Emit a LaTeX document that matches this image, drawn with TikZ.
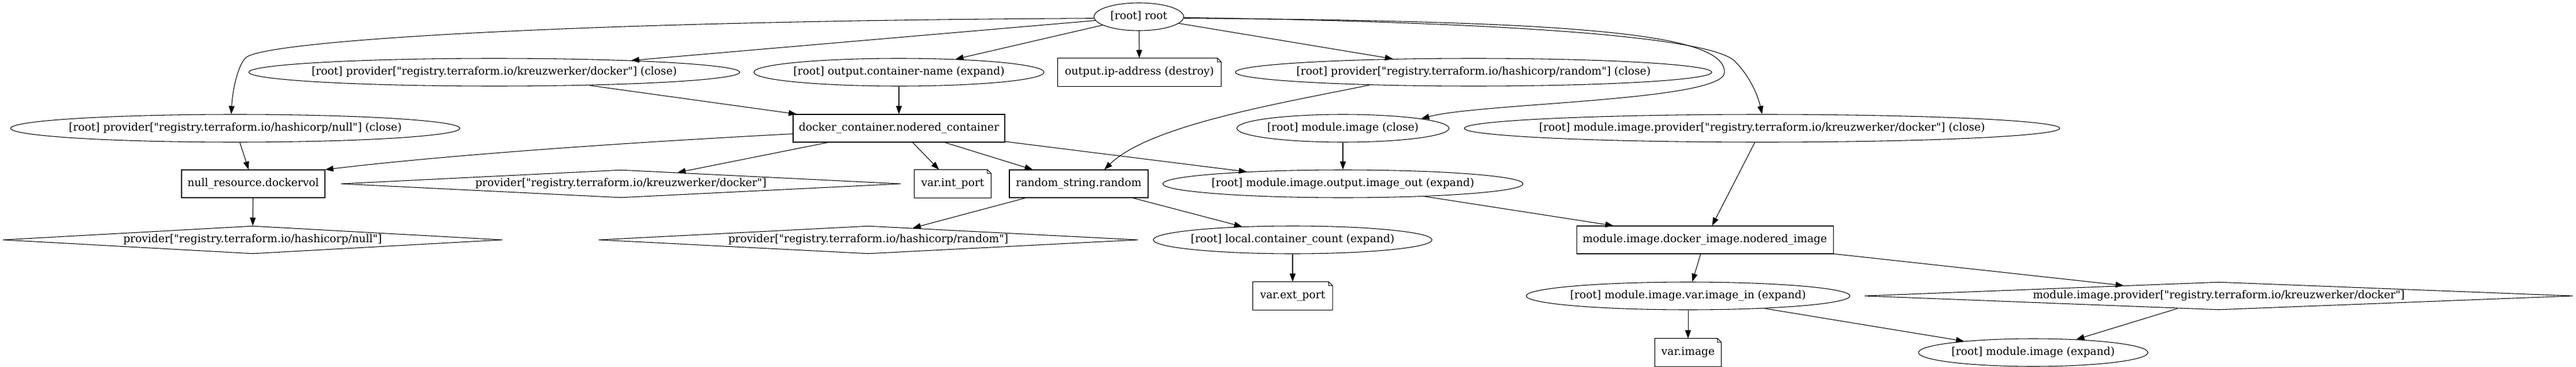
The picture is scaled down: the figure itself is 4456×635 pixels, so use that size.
\documentclass[tikz,border=0pt]{standalone}
\usepackage{fontspec}
\newfontfamily\dvserif{DejaVu Serif}
\usetikzlibrary{shapes.geometric,arrows.meta}
\newcommand\notefold[1]{%
  \draw (#1.south west) -- (#1.north west) -- ([xshift=-5pt]#1.north east) -- ([yshift=-5pt]#1.north east) -- (#1.south east) -- cycle
        ([xshift=-5pt]#1.north east) |- ([yshift=-5pt]#1.north east);}
\begin{document}
\begin{tikzpicture}[x=0.75pt, y=-0.75pt, line width=0.8pt,
   every node/.style={font=\dvserif\fontsize{14pt}{17pt}\selectfont, text height=10pt, text depth=3pt, minimum height=36pt},
   oval/.style={ellipse, draw, inner xsep=-20pt, inner ysep=0pt},
   rbox/.style={rectangle, draw, inner sep=2pt},
   notebox/.style={rectangle, inner sep=2pt},
   prov/.style={diamond, draw, inner sep=0pt},
   wd/.style={minimum width=#1*0.75pt},
   dep/.style={-{Triangle[length=10.5pt,width=7.5pt]}}]
 \useasboundingbox (0,0) rectangle (4456,635);
   \node (root) [oval, wd=155] at (1970,29) {[root] root};
   \node (pdc) [oval, wd=849] at (855,125) {[root] provider["registry.terraform.io/kreuzwerker/docker"] (close)};
   \node (ocn) [oval, wd=502] at (1555,125) {[root] output.container-name (expand)};
   \node (oip) [notebox, wd=282] at (1971,125) {output.ip-address (destroy)};
   \node (prc) [oval, wd=824] at (2549,125) {[root] provider["registry.terraform.io/hashicorp/random"] (close)};
   \node (pnc) [oval, wd=777] at (407,222) {[root] provider["registry.terraform.io/hashicorp/null"] (close)};
   \node (dc) [rbox, wd=366] at (1555,222) {docker\_container.nodered\_container};
   \node (mic) [oval, wd=367] at (2323,222) {[root] module.image (close)};
   \node (mipc) [oval, wd=1030] at (3048,222) {[root] module.image.provider["registry.terraform.io/kreuzwerker/docker"] (close)};
   \node (nr) [rbox, wd=248] at (438,318) {null\_resource.dockervol};
   \node (pd) [prov, wd=968, aspect=20.2] at (1074,318) {provider["registry.terraform.io/kreuzwerker/docker"]};
   \node (vip) [notebox, wd=132] at (1648,318) {var.int\_port};
   \node (rs) [rbox, wd=240] at (1866,318) {random\_string.random};
   \node (io) [oval, wd=623] at (2323,318) {[root] module.image.output.image\_out (expand)};
   \node (pn) [prov, wd=864, aspect=18] at (437,415) {provider["registry.terraform.io/hashicorp/null"]};
   \node (pr) [prov, wd=933, aspect=19.4] at (1502,415) {provider["registry.terraform.io/hashicorp/random"]};
   \node (lcc) [oval, wd=482] at (2236,415) {[root] local.container\_count (expand)};
   \node (di) [rbox, wd=444] at (2949,415) {module.image.docker\_image.nodered\_image};
   \node (vep) [notebox, wd=137] at (2236,512) {var.ext\_port};
   \node (vii) [oval, wd=560] at (2920,512) {[root] module.image.var.image\_in (expand)};
   \node (mip) [prov, wd=1225, aspect=25.5] at (3838,512) {module.image.provider["registry.terraform.io/kreuzwerker/docker"]};
   \node (vi) [notebox, wd=114] at (2920,610) {var.image};
   \node (mie) [oval, wd=397] at (3517,610) {[root] module.image (expand)};
   \notefold{oip} \notefold{vip} \notefold{vep} \notefold{vi}
   \draw[dep] (root.182) .. controls (1000,36) and (455,70) .. (425,100) .. controls (410,115) and (402,160) .. (pnc.106);
   \draw[dep] (root) -- (pdc);
   \draw[dep] (root) -- (ocn);
   \draw[dep] (root) -- (oip);
   \draw[dep] (root) -- (prc);
   \draw[dep] (root.358) .. controls (2750,36) and (2983,60) .. (2983,125) .. controls (2983,175) and (2560,178) .. (mic.7);
   \draw[dep] (root.359) .. controls (2700,40) and (2960,70) .. (3000,105) .. controls (3030,135) and (3042,170) .. (mipc.north);
   \draw[dep] (pdc) -- (dc);
   \draw[dep] (ocn) -- (dc);
   \draw[dep] (prc.187) .. controls (2230,176) and (1990,215) .. (rs.29);
   \draw[dep] (mic) -- (io);
   \draw[dep] (mipc) -- (di);
   \draw[dep] (pnc) -- (nr);
   \draw[dep] (dc.183) .. controls (1150,243) and (800,265) .. (nr.north east);
   \draw[dep] (dc) -- (pd);
   \draw[dep] (dc) -- (vip);
   \draw[dep] (dc) -- (rs);
   \draw[dep] (dc) -- (io);
   \draw[dep] (nr) -- (pn);
   \draw[dep] (rs) -- (pr);
   \draw[dep] (rs) -- (lcc);
   \draw[dep] (io) -- (di);
   \draw[dep] (lcc) -- (vep);
   \draw[dep] (di) -- (vii);
   \draw[dep] (di) -- (mip);
   \draw[dep] (vii) -- (vi);
   \draw[dep] (vii) -- (mie);
   \draw[dep] (mip) -- (mie);
 \end{tikzpicture}
\end{document}
